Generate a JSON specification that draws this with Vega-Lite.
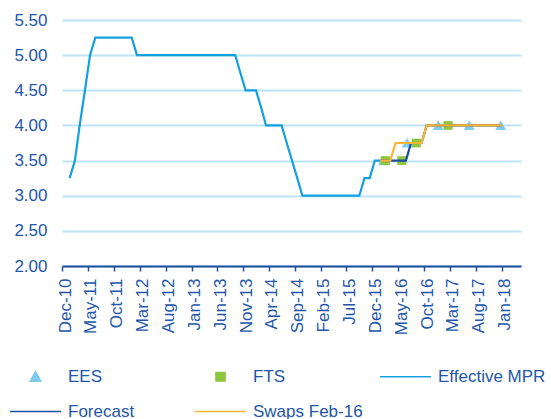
{
  "$schema": "https://vega.github.io/schema/vega-lite/v6.json",
  "width": 459,
  "height": 246,
  "autosize": {"type": "none"},
  "padding": {"left": 62, "top": 20, "right": 30, "bottom": 153},
  "background": "white",
  "config": {
    "font": "Liberation Sans",
    "view": {"stroke": null}
  },
  "data": {
    "values": [
      {"date": "2011-01-15", "value": 3.25, "series": "Effective MPR"},
      {"date": "2011-02-15", "value": 3.5, "series": "Effective MPR"},
      {"date": "2011-03-15", "value": 4.0, "series": "Effective MPR"},
      {"date": "2011-04-15", "value": 4.5, "series": "Effective MPR"},
      {"date": "2011-05-15", "value": 5.0, "series": "Effective MPR"},
      {"date": "2011-06-15", "value": 5.25, "series": "Effective MPR"},
      {"date": "2012-01-15", "value": 5.25, "series": "Effective MPR"},
      {"date": "2012-02-15", "value": 5.0, "series": "Effective MPR"},
      {"date": "2013-09-15", "value": 5.0, "series": "Effective MPR"},
      {"date": "2013-10-15", "value": 4.75, "series": "Effective MPR"},
      {"date": "2013-11-15", "value": 4.5, "series": "Effective MPR"},
      {"date": "2014-01-15", "value": 4.5, "series": "Effective MPR"},
      {"date": "2014-02-15", "value": 4.25, "series": "Effective MPR"},
      {"date": "2014-03-15", "value": 4.0, "series": "Effective MPR"},
      {"date": "2014-06-15", "value": 4.0, "series": "Effective MPR"},
      {"date": "2014-07-15", "value": 3.75, "series": "Effective MPR"},
      {"date": "2014-08-15", "value": 3.5, "series": "Effective MPR"},
      {"date": "2014-09-15", "value": 3.25, "series": "Effective MPR"},
      {"date": "2014-10-15", "value": 3.0, "series": "Effective MPR"},
      {"date": "2015-09-15", "value": 3.0, "series": "Effective MPR"},
      {"date": "2015-10-15", "value": 3.25, "series": "Effective MPR"},
      {"date": "2015-11-15", "value": 3.25, "series": "Effective MPR"},
      {"date": "2015-12-15", "value": 3.5, "series": "Effective MPR"},
      {"date": "2016-01-15", "value": 3.5, "series": "Effective MPR"},
      {"date": "2016-01-15", "value": 3.5, "series": "Forecast"},
      {"date": "2016-06-15", "value": 3.5, "series": "Forecast"},
      {"date": "2016-07-15", "value": 3.75, "series": "Forecast"},
      {"date": "2016-09-15", "value": 3.75, "series": "Forecast"},
      {"date": "2016-10-15", "value": 4.0, "series": "Forecast"},
      {"date": "2018-01-01", "value": 4.0, "series": "Forecast"},
      {"date": "2016-01-15", "value": 3.5, "series": "Swaps Feb-16"},
      {"date": "2016-03-15", "value": 3.5, "series": "Swaps Feb-16"},
      {"date": "2016-04-15", "value": 3.75, "series": "Swaps Feb-16"},
      {"date": "2016-09-15", "value": 3.75, "series": "Swaps Feb-16"},
      {"date": "2016-10-15", "value": 4.0, "series": "Swaps Feb-16"},
      {"date": "2018-01-01", "value": 4.0, "series": "Swaps Feb-16"},
      {"date": "2016-02-04", "value": 3.5, "series": "EES"},
      {"date": "2016-06-22", "value": 3.75, "series": "EES"},
      {"date": "2016-12-22", "value": 4.0, "series": "EES"},
      {"date": "2017-06-22", "value": 4.0, "series": "EES"},
      {"date": "2017-12-25", "value": 4.0, "series": "EES"},
      {"date": "2016-02-15", "value": 3.5, "series": "FTS"},
      {"date": "2016-05-22", "value": 3.5, "series": "FTS"},
      {"date": "2016-08-15", "value": 3.75, "series": "FTS"},
      {"date": "2017-02-18", "value": 4.0, "series": "FTS"}
    ]
  },
  "encoding": {
    "x": {
      "field": "date",
      "type": "temporal",
      "scale": {
        "type": "utc",
        "domain": [
          {"year": 2010, "month": 12, "date": 1, "utc": true},
          {"year": 2018, "month": 4, "date": 23, "utc": true}
        ],
        "nice": false
      },
      "axis": {
        "title": null,
        "grid": false,
        "format": "%b-%y",
        "values": [
          {"year": 2010, "month": 12, "date": 1, "utc": true},
          {"year": 2011, "month": 5, "date": 1, "utc": true},
          {"year": 2011, "month": 10, "date": 1, "utc": true},
          {"year": 2012, "month": 3, "date": 1, "utc": true},
          {"year": 2012, "month": 8, "date": 1, "utc": true},
          {"year": 2013, "month": 1, "date": 1, "utc": true},
          {"year": 2013, "month": 6, "date": 1, "utc": true},
          {"year": 2013, "month": 11, "date": 1, "utc": true},
          {"year": 2014, "month": 4, "date": 1, "utc": true},
          {"year": 2014, "month": 9, "date": 1, "utc": true},
          {"year": 2015, "month": 2, "date": 1, "utc": true},
          {"year": 2015, "month": 7, "date": 1, "utc": true},
          {"year": 2015, "month": 12, "date": 1, "utc": true},
          {"year": 2016, "month": 5, "date": 1, "utc": true},
          {"year": 2016, "month": 10, "date": 1, "utc": true},
          {"year": 2017, "month": 3, "date": 1, "utc": true},
          {"year": 2017, "month": 8, "date": 1, "utc": true},
          {"year": 2018, "month": 1, "date": 1, "utc": true}
        ],
        "labelAngle": -90,
        "labelFontSize": 17,
        "labelColor": "#2356a8",
        "labelPadding": 7,
        "labelOffset": 3,
        "labelFlush": false,
        "labelOverlap": false,
        "labelBound": false,
        "domainColor": "#1f4e9e",
        "domainWidth": 2,
        "tickColor": "#1f4e9e",
        "tickWidth": 1.5,
        "tickSize": 5
      }
    },
    "y": {
      "field": "value",
      "type": "quantitative",
      "scale": {"domain": [2, 5.5], "nice": false, "zero": false},
      "axis": {
        "title": null,
        "values": [2, 2.5, 3, 3.5, 4, 4.5, 5, 5.5],
        "format": ".2f",
        "grid": true,
        "gridColor": "#bde4f7",
        "gridWidth": 2,
        "domain": false,
        "ticks": false,
        "labelPadding": 15,
        "labelFontSize": 17,
        "labelColor": "#2356a8"
      }
    }
  },
  "layer": [
    {
      "transform": [{"filter": "datum.series === 'EES' || datum.series === 'FTS'"}],
      "mark": {"type": "point", "filled": true, "size": 2601, "opacity": 1, "strokeWidth": 0},
      "encoding": {
        "color": {
          "field": "series",
          "type": "nominal",
          "scale": {
            "domain": ["EES", "FTS", "Effective MPR", "Forecast", "Swaps Feb-16"],
            "range": ["#7fcbee", "#8cc63e", "#13a0e1", "#1d4f9f", "#fbb633"]
          },
          "legend": {
            "title": null,
            "orient": "none",
            "legendX": -53,
            "legendY": 330,
            "direction": "horizontal",
            "columns": 3,
            "gridAlign": "all",
            "columnPadding": 14,
            "rowPadding": -16,
            "symbolSize": 2601,
            "labelOffset": 6,
            "labelFontSize": 17,
            "labelColor": "#2356a8",
            "labelLimit": 200,
            "encode": {
              "symbols": {
                "update": {
                  "fill": {"scale": "color", "field": "value"},
                  "stroke": {"scale": "color", "field": "value"},
                  "strokeWidth": {"value": 2},
                  "opacity": {"value": 1}
                }
              }
            }
          }
        },
        "shape": {
          "field": "series",
          "type": "nominal",
          "scale": {
            "domain": ["EES", "FTS", "Effective MPR", "Forecast", "Swaps Feb-16"],
            "range": [
              "M0,-0.2L0.21,0.18L-0.21,0.18Z",
              "M-0.18,-0.17L0.18,-0.17L0.18,0.17L-0.18,0.17Z",
              "M-1,0L1,0",
              "M-1,0L1,0",
              "M-1,0L1,0"
            ]
          }
        }
      }
    },
    {
      "transform": [{"filter": "datum.series !== 'EES' && datum.series !== 'FTS'"}],
      "mark": {"type": "line", "strokeWidth": 2.2},
      "encoding": {
        "color": {"field": "series", "type": "nominal"},
        "order": {"field": "date", "type": "temporal"}
      }
    }
  ]
}
